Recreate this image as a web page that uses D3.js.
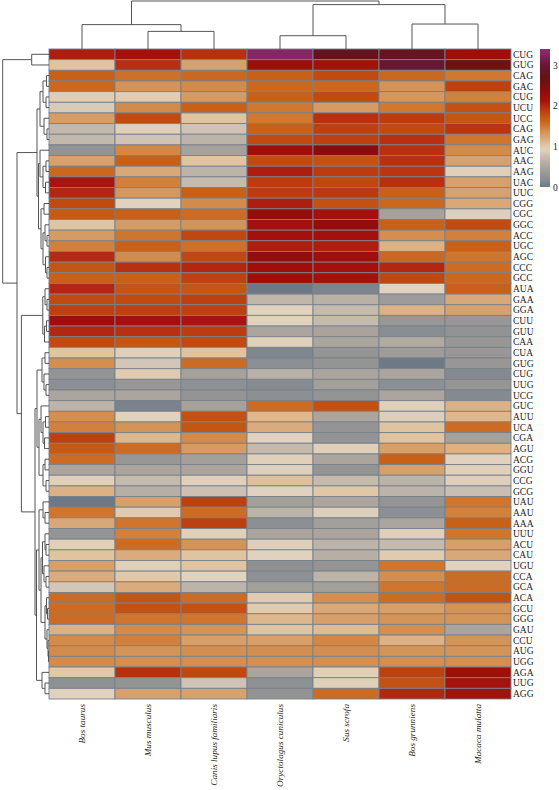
<!DOCTYPE html>
<html><head><meta charset="utf-8">
<script src="https://cdn.jsdelivr.net/npm/d3@7"></script>
<style>body{margin:0;background:#fff}</style>
</head><body><svg id="c" width="559" height="790"></svg>
<script>
const species = ["Bos taurus","Mus musculus","Canis lupus familiaris","Oryctolagus cuniculus","Sus scrofa","Bos grunniens","Macaca mulatta"];
const codons = ["CUG","GUG","CAG","GAC","CUG","UCU","UCC","CAG","GAG","AUC","AAC","AAG","UAC","UUC","CGG","CGC","GGC","ACC","UGC","AGC","CCC","GCC","AUA","GAA","GGA","CUU","GUU","CAA","CUA","GUG","CUG","UUG","UCG","GUC","AUU","UCA","CGA","AGU","ACG","GGU","CCG","GCG","UAU","AAU","AAA","UUU","ACU","CAU","UGU","CCA","GCA","ACA","GCU","GGG","GAU","CCU","AUG","UGG","AGA","UUG","AGG"];

const bosTaurus = [2.05,1.05,1.65,1.6,0.95,0.85,1.28,0.7,0.7,0.25, 1.25,1.6,2.1,2.0,1.8,1.7,1.05,1.3,1.45,1.98, 1.72,1.65,2.0,1.8,1.85,2.2,2.0,1.8,1.05,1.38, 0.27,0.2,0.5,0.65,1.38,1.45,1.85,1.7,1.58,0.5, 0.92,1.15,0.0,1.52,1.2,0.27,0.92,1.05,1.27,1.18, 0.82,1.58,1.58,1.58,1.15,1.4,1.4,1.4,1.0,0.22,0.9];
const musMusculus = [2.15,1.95,1.55,1.35,0.95,1.4,1.8,0.92,0.8,1.42, 1.65,1.2,1.45,1.33,0.9,1.65,1.3,1.52,1.65,1.4, 1.95,1.65,1.72,1.8,1.85,2.15,1.95,1.72,0.92,0.82, 0.97,0.32,0.5,0.08,0.9,1.35,1.12,1.58,0.32,0.5, 0.72,0.6,1.27,0.97,1.52,1.45,1.58,1.18,0.92,1.0, 1.18,1.72,1.75,1.52,1.4,1.45,1.35,1.38,1.95,0.27,1.25];
const canisLupus = [1.95,1.25,1.6,1.4,1.3,1.65,1.05,0.8,0.65,0.45, 1.05,0.65,0.72,1.65,1.4,1.58,1.35,1.82,1.55,1.82, 2.0,1.85,1.72,1.85,1.85,2.1,1.88,1.8,1.05,1.58, 0.45,0.22,0.28,0.45,1.75,1.72,1.4,1.3,0.42,0.5, 0.92,0.78,1.85,1.58,1.85,0.92,1.35,1.05,1.05,0.9, 0.65,1.58,1.75,1.52,1.35,1.27,1.38,1.38,1.82,0.8,1.25];
const oryctolagus = [3.3,2.2,1.65,1.6,1.65,1.5,1.5,1.65,1.8,2.2, 1.8,2.05,1.88,1.88,2.05,2.3,2.15,2.15,2.05,2.3, 2.2,2.2,0.0,0.68,0.9,0.9,0.5,0.92,0.12,0.2, 0.62,0.16,0.2,1.58,1.12,1.18,0.9,0.72,0.92,0.88, 1.07,0.9,0.42,0.65,0.2,0.5,0.88,0.9,0.22,0.22, 0.42,0.97,0.97,1.12,1.05,1.27,1.38,1.38,0.5,0.22,0.27];
const susScrofa = [2.75,2.15,1.8,1.6,1.8,1.3,1.95,1.85,1.85,2.4, 1.75,1.88,1.82,1.9,1.75,2.15,2.3,2.15,2.05,2.2, 2.15,2.15,0.1,0.62,0.72,0.72,0.48,0.5,0.28,0.27, 0.5,0.42,0.27,1.75,0.5,0.28,0.28,0.92,0.5,0.27, 0.72,1.02,0.5,0.88,0.42,0.5,0.65,0.6,0.28,0.65, 0.42,1.38,1.2,1.27,1.1,1.42,1.38,1.38,0.92,0.92,1.58];
const bosGrunniens = [2.8,3.0,1.6,1.35,1.33,1.5,1.88,1.8,1.95,1.95, 1.95,1.92,1.95,1.65,1.6,0.45,1.65,1.38,1.15,1.6, 2.0,1.82,0.9,0.38,1.15,0.32,0.18,0.55,0.38,0.0, 0.5,0.2,0.5,0.92,0.88,1.05,1.05,1.27,1.65,1.27, 0.65,0.65,0.28,0.2,0.5,0.92,0.72,0.97,1.52,1.38, 1.52,1.58,1.27,1.35,1.38,1.15,1.35,1.38,1.85,1.75,2.0];
const macacaMulatta = [2.2,2.6,1.5,1.85,1.45,1.75,1.72,1.92,1.52,1.4, 1.25,0.92,1.25,1.25,1.2,0.88,1.8,1.45,1.65,1.52, 1.58,1.6,1.65,1.2,1.25,0.32,0.25,0.32,0.32,0.32, 0.15,0.3,0.15,1.15,1.12,1.58,0.45,1.15,0.9,0.92, 0.88,0.76,1.52,1.45,1.65,1.52,1.27,1.2,0.9,1.58, 1.58,1.75,1.35,1.35,0.5,1.35,1.35,1.38,2.2,2.12,2.15];
const columns = [bosTaurus, musMusculus, canisLupus, oryctolagus, susScrofa, bosGrunniens, macacaMulatta];

const legendTicks = [0,1,2,3];
const legendMax = 3.4;
const colorStops = [0,0.2,0.3,0.5,0.65,0.75,0.9,1.05,1.2,1.35,1.5,1.65,1.8,1.95,2.1,2.2,2.4,2.7,3.0,3.4];
const colorRange = ["#6e7886","#8c9094","#969594","#aca59d","#bcb4a8","#c8bcb0","#e0d2be","#e0c4a0","#d9a878","#d49458","#d07830","#c86018","#c04a10","#b83010","#a81410","#a00e0a","#8a0c0c","#621414","#6a1538","#8e2d74"];

// column tree: [height, left, right], leaves = column index
const colTree = [1.0, [0.508, 0, [0.367, 1, 2]], [0.925, [0.277, 3, 4], [0.52, 5, 6]]];
// row tree: [height, left, right], leaves = row index
const rowTree = [46.3,
  [17.3, 0, 1],
  [32,
    [12,
      [9, [6, [2.5, 2, 3], [3, 4, 5]], [5, 6, [2, 7, 8]]],
      [10.5, [9, 9, [6, [3, 10, 11], [3.5, 12, 13]]],
             [8, [5, 14, 15], [6, [4, 16, [2, 17, 18]], [3.5, 19, [2, 20, 21]]]]]],
    [27.6,
      [6.2, [4, 22, [2, 23, 24]], [4.5, [2.5, 25, 26], 27]],
      [14,
        [12, [7, [4, 28, 29], [5, 30, [3, 31, 32]]],
             [10, [8, 33, [6, [3.5, 34, 35], [4.5, 36, 37]]], [6, [4, 38, 39], [3, 40, 41]]]],
        [12.5,
          [10, [6, 42, [4, 43, 44]],
               [8, [6.5, [4, 45, [3, 46, 47]], [5, 48, [3, 49, 50]]],
                   [4, [2.5, 51, [1.5, 52, 53]], [2, 54, [1, 55, [0.5, 56, 57]]]]]],
          [7, 58, [4, 59, 60]]]]]]];

const svg = d3.select("#c");
const x = d3.scaleBand().domain(d3.range(species.length)).range([49, 511]);
const y = d3.scaleBand().domain(d3.range(codons.length)).range([49, 699]);
const color = d3.scaleLinear().domain(colorStops).range(colorRange).interpolate(d3.interpolateRgb).clamp(true);

const cells = [];
columns.forEach((col, j) => col.forEach((v, i) => cells.push({i, j, v})));
svg.append("g").selectAll("rect").data(cells).join("rect")
  .attr("x", d => x(d.j)).attr("y", d => y(d.i))
  .attr("width", x.bandwidth()).attr("height", y.bandwidth())
  .attr("fill", d => color(d.v))
  .attr("stroke", "#78818a").attr("stroke-width", 0.9);

// dendrograms
const lineColor = "#555";
const dg = svg.append("g").attr("fill", "none").attr("stroke", lineColor).attr("stroke-width", 1);
const rowH = d3.scaleLinear().domain([0, rowTree[0]]).range([49, 2.7]);
const colH = d3.scaleLinear().domain([0, colTree[0]]).range([49, 1]);

function drawRow(node) {
  if (typeof node === "number") return {p: y(node) + y.bandwidth() / 2, h: 0};
  const a = drawRow(node[1]), b = drawRow(node[2]);
  const hx = rowH(node[0]);
  const p = d3.path();
  p.moveTo(rowH(a.h), a.p); p.lineTo(hx, a.p); p.lineTo(hx, b.p); p.lineTo(rowH(b.h), b.p);
  dg.append("path").attr("d", p.toString());
  return {p: (a.p + b.p) / 2, h: node[0]};
}
drawRow(rowTree);

function drawCol(node) {
  if (typeof node === "number") return {p: x(node) + x.bandwidth() / 2, h: 0};
  const a = drawCol(node[1]), b = drawCol(node[2]);
  const hy = colH(node[0]);
  const p = d3.path();
  p.moveTo(a.p, colH(a.h)); p.lineTo(a.p, hy); p.lineTo(b.p, hy); p.lineTo(b.p, colH(b.h));
  dg.append("path").attr("d", p.toString());
  return {p: (a.p + b.p) / 2, h: node[0]};
}
drawCol(colTree);

// row labels
svg.append("g").selectAll("text").data(codons).join("text")
  .attr("x", 513).attr("y", (d, i) => y(i) + y.bandwidth() / 2).attr("dy", "0.35em")
  .style("font", "9.5px 'Liberation Serif', serif").attr("fill", "#222").text(d => d);

// column labels
svg.append("g").selectAll("text").data(species).join("text")
  .attr("transform", (d, j) => `translate(${x(j) + x.bandwidth() / 2},704) rotate(-90)`)
  .attr("text-anchor", "end").attr("dy", "0.35em")
  .style("font", "italic 9.2px 'Liberation Serif', serif").attr("fill", "#222").text(d => d);

// legend
const ly = d3.scaleLinear().domain([0, legendMax]).range([187, 49]);
const grad = svg.append("defs").append("linearGradient").attr("id", "lg")
  .attr("x1", 0).attr("y1", 1).attr("x2", 0).attr("y2", 0);
grad.selectAll("stop").data(d3.range(0, 1.0001, 0.02)).join("stop")
  .attr("offset", t => t).attr("stop-color", t => color(t * legendMax));
svg.append("rect").attr("x", 540).attr("y", ly(legendMax)).attr("width", 10)
  .attr("height", ly(0) - ly(legendMax)).attr("fill", "url(#lg)");
const ax = svg.append("g").attr("transform", "translate(550,0)")
  .call(d3.axisRight(ly).tickValues(legendTicks).tickSize(0).tickPadding(3).tickFormat(d3.format("d")));
ax.select(".domain").remove();
ax.selectAll("text").style("font", "9.5px 'Liberation Serif', serif").attr("fill", "#222");
</script></body></html>
